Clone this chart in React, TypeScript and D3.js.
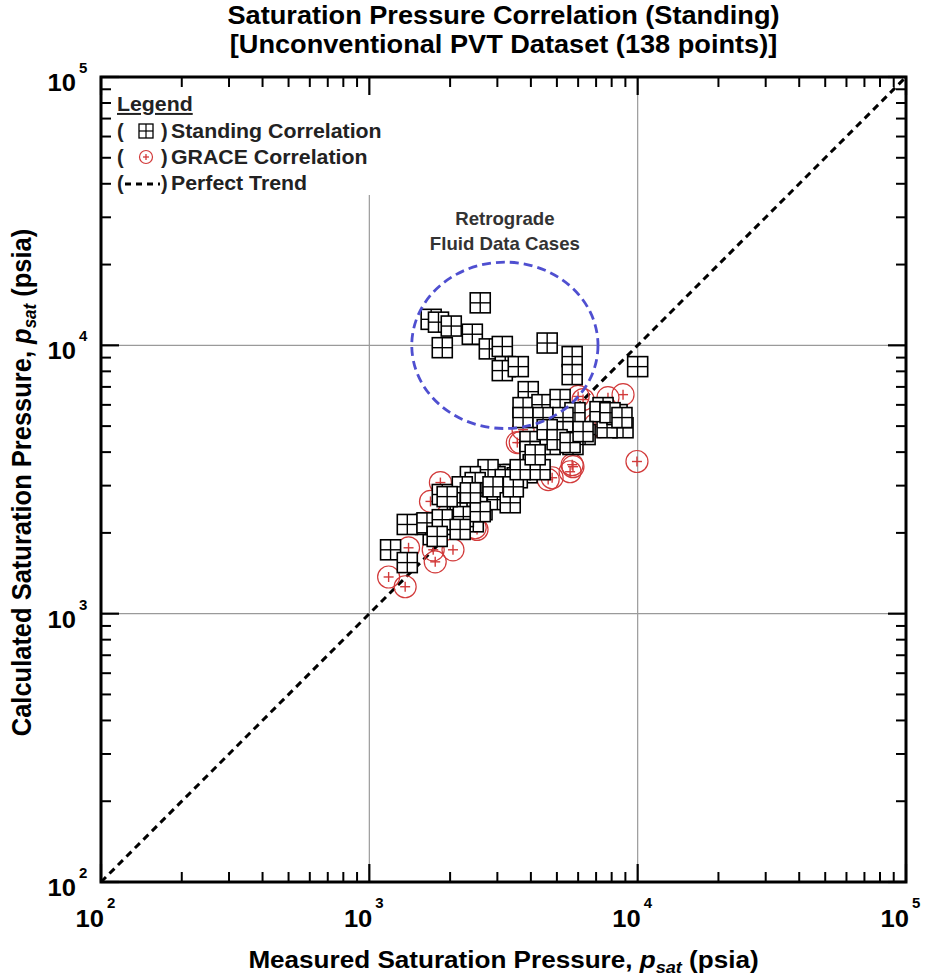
import React from "react";
import * as d3 from "d3";

// ---------- data ----------
const standingMeasured = [
  2590, 1700, 1810, 2020, 1870, 2420, 2800, 3130, 3210, 3130, 3590, 4600, 5700, 5700, 10000,
  3910, 3740, 4400, 5140, 5840, 3740, 4440, 5270, 7430, 8590, 8820, 7690, 6370, 5740, 5140,
  4720, 3970, 3970, 4080, 3870, 3440, 3070, 2750, 5270, 4600, 8380, 7240, 7890, 8740, 2940,
  3020, 2770, 2380, 2480, 2220, 2630, 1870, 2130, 2630, 2440, 2140, 1950, 1730, 1620, 1385,
  1200, 1385, 2180, 2520, 3260, 3000, 2240, 2590, 3560, 3210, 2890, 3350, 3440, 4330, 3650,
  4150, 5010, 5600, 6260, 1640, 1870, 1790, 2180, 2380, 1950,
];
const standingCalculated = [
  14400, 12500, 12200, 11800, 9800, 11000, 9700, 9900, 8330, 8050, 8330, 10200, 9080, 7780, 8330,
  6720, 5860, 6010, 6280, 5610, 5380, 5380, 5380, 5860, 5290, 4930, 4930, 4650, 4270, 4730,
  4270, 4380, 4020, 3590, 3350, 3300, 3300, 3240, 4770, 4850, 5520, 5660, 5610, 5380, 3240,
  2970, 3440, 3240, 3080, 2970, 2820, 2780, 2550, 2440, 2200, 2200, 2150, 1970, 2150, 2150,
  1730, 1550, 2590, 2510, 2730, 2660, 2300, 2400, 3210, 3160, 2970, 2590, 2970, 3440, 3440,
  3910, 4450, 4340, 4770, 2180, 2240, 1940, 2060, 2820, 2730,
];
const graceMeasured = [
  1180, 1360, 1730, 1760, 2050, 1840, 1690, 2480, 1400, 8820, 7750, 6260, 9940, 5700, 5600,
  4800, 6940, 3560, 5740, 4640, 6000, 7240, 3740, 3650, 2520,
];
const graceCalculated = [
  1370, 1260, 1730, 1560, 1730, 3080, 2620, 2090, 1760, 6550, 6380, 6280, 3690, 3590, 3380,
  3210, 5060, 4340, 3530, 3160, 6450, 4980, 4850, 4340, 2060,
];
const decades = [100, 1000, 10000, 100000];
const exponents = ["2", "3", "4", "5"];
const gridValues = [1000, 10000];
const titleLines = [
  "Saturation Pressure Correlation (Standing)",
  "[Unconventional PVT Dataset (138 points)]",
];
const legendLabels = ["Standing Correlation", "GRACE Correlation", "Perfect Trend"];
const annotationLines = ["Retrograde", "Fluid Data Cases"];
const ellipseCenter = [3200, 10000];
const ellipseRadiusDecades = [0.347, 0.31];

// ---------- layout ----------
const W = 927;
const H = 977;
const L = 101, R = 906, T = 77, B = 882;
const FONT = "Arial, 'Liberation Sans', Helvetica, sans-serif";
const SX = 1.065; // horizontal stretch of the source picture's lettering

export default function App() {
  const x = d3.scaleLog().domain([100, 100000]).range([L, R]);
  const y = d3.scaleLog().domain([100, 100000]).range([B, T]);

  const minor: number[] = [];
  for (let k = 0; k < 3; k++) for (let m = 2; m <= 9; m++) minor.push(decades[k] * m);

  const sq = 10; // half size
  const cr = 11;

  const ecx = x(ellipseCenter[0]);
  const ecy = y(ellipseCenter[1]);
  const erx = x(ellipseCenter[0] * Math.pow(10, ellipseRadiusDecades[0])) - ecx;
  const ery = ecy - y(ellipseCenter[1] * Math.pow(10, ellipseRadiusDecades[1]));

  const red = "#d23a3a";
  const cxMid = (L + R) / 2;

  return (
    <svg
      width={W}
      height={H}
      style={{ position: "absolute", left: 0, top: 0, background: "#fff" }}
      fontFamily={FONT}
    >
      <defs>
        <clipPath id="plotClip">
          <rect x={L} y={T} width={R - L} height={B - T} />
        </clipPath>
      </defs>
      <rect x={0} y={0} width={W} height={H} fill="#fff" />

      {/* grid */}
      {gridValues.map((v) => (
        <g key={"g" + v}>
          <line x1={x(v)} x2={x(v)} y1={T} y2={B} stroke="#9a9a9a" strokeWidth={1.2} />
          <line x1={L} x2={R} y1={y(v)} y2={y(v)} stroke="#9a9a9a" strokeWidth={1.2} />
        </g>
      ))}

      {/* legend background */}
      <rect x={L + 2} y={T + 2} width={300} height={116} fill="#fff" />

      {/* perfect trend */}
      <g clipPath="url(#plotClip)">
        <line
          x1={x(100)}
          y1={y(100)}
          x2={x(100000)}
          y2={y(100000)}
          stroke="#000"
          strokeWidth={3}
          strokeDasharray="7,5"
        />
      </g>

      {/* GRACE circles */}
      <g clipPath="url(#plotClip)">
        {graceMeasured.map((m, i) => {
          const cx = x(m);
          const cy = y(graceCalculated[i]);
          return (
            <g key={"c" + i}>
              <circle cx={cx} cy={cy} r={cr} fill="none" stroke={red} strokeWidth={1.2} />
              <line x1={cx - 5} x2={cx + 5} y1={cy} y2={cy} stroke={red} strokeWidth={1.4} />
              <line x1={cx} x2={cx} y1={cy - 5} y2={cy + 5} stroke={red} strokeWidth={1.4} />
            </g>
          );
        })}
      </g>

      {/* Standing squares */}
      <g clipPath="url(#plotClip)">
        {standingMeasured.map((m, i) => {
          const cx = x(m);
          const cy = y(standingCalculated[i]);
          return (
            <g key={"s" + i}>
              <rect
                x={cx - sq}
                y={cy - sq}
                width={2 * sq}
                height={2 * sq}
                fill="#fff"
                stroke="#000"
                strokeWidth={1.6}
              />
              <line x1={cx - sq} x2={cx + sq} y1={cy} y2={cy} stroke="#000" strokeWidth={1.4} />
              <line x1={cx} x2={cx} y1={cy - sq} y2={cy + sq} stroke="#000" strokeWidth={1.4} />
            </g>
          );
        })}
      </g>

      {/* retrograde ellipse */}
      <ellipse
        cx={ecx}
        cy={ecy}
        rx={erx}
        ry={ery}
        fill="none"
        stroke="#4f4fd0"
        strokeWidth={2.8}
        strokeDasharray="9,5"
      />
      {annotationLines.map((t, i) => (
        <text
          key={t}
          transform={`translate(${ecx}, ${225 + i * 25}) scale(${SX}, 1)`}
          textAnchor="middle"
          fontSize={17.5}
          fontWeight="bold"
          fill="#333"
        >
          {t}
        </text>
      ))}

      {/* ticks */}
      {minor.map((v) => (
        <g key={"t" + v}>
          <line x1={x(v)} x2={x(v)} y1={B} y2={B - 10} stroke="#000" strokeWidth={2} />
          <line x1={x(v)} x2={x(v)} y1={T} y2={T + 10} stroke="#000" strokeWidth={2} />
          <line x1={L} x2={L + 10} y1={y(v)} y2={y(v)} stroke="#000" strokeWidth={2} />
          <line x1={R} x2={R - 10} y1={y(v)} y2={y(v)} stroke="#000" strokeWidth={2} />
        </g>
      ))}
      {decades.map((v) => (
        <g key={"T" + v}>
          <line x1={x(v)} x2={x(v)} y1={B} y2={B - 18} stroke="#000" strokeWidth={2.2} />
          <line x1={x(v)} x2={x(v)} y1={T} y2={T + 18} stroke="#000" strokeWidth={2.2} />
          <line x1={L} x2={L + 18} y1={y(v)} y2={y(v)} stroke="#000" strokeWidth={2.2} />
          <line x1={R} x2={R - 18} y1={y(v)} y2={y(v)} stroke="#000" strokeWidth={2.2} />
        </g>
      ))}

      {/* frame */}
      <rect x={L} y={T} width={R - L} height={B - T} fill="none" stroke="#000" strokeWidth={3} />

      {/* tick labels */}
      {decades.map((v, i) => (
        <g key={"lx" + v}>
          <text
            transform={`translate(${x(v) + 3}, 927) scale(${SX}, 1)`}
            textAnchor="end"
            fontSize={24}
            fontWeight="bold"
          >
            10
          </text>
          <text x={x(v) + 6} y={908} fontSize={15} fontWeight="bold">
            {exponents[i]}
          </text>
        </g>
      ))}
      {decades.map((v, i) => (
        <g key={"ly" + v}>
          <text
            transform={`translate(76, ${y(v) + 14}) scale(${SX}, 1)`}
            textAnchor="end"
            fontSize={24}
            fontWeight="bold"
          >
            10
          </text>
          <text x={79} y={y(v) - 4} fontSize={15} fontWeight="bold">
            {exponents[i]}
          </text>
        </g>
      ))}

      {/* titles */}
      {titleLines.map((t, i) => (
        <text
          key={t}
          transform={`translate(${cxMid}, ${24 + i * 29}) scale(${SX}, 1)`}
          textAnchor="middle"
          fontSize={25.5}
          fontWeight="bold"
        >
          {t}
        </text>
      ))}
      <text
        transform={`translate(${cxMid}, 968) scale(${SX}, 1)`}
        textAnchor="middle"
        fontSize={24.5}
        fontWeight="bold"
      >
        Measured Saturation Pressure,{" "}
        <tspan fontStyle="italic">p</tspan>
        <tspan fontStyle="italic" fontSize={17} dy={5}>
          sat
        </tspan>
        <tspan dy={-5}> (psia)</tspan>
      </text>
      <text
        transform={`translate(31, ${(T + B) / 2 + 3}) rotate(-90) scale(1, ${SX})`}
        textAnchor="middle"
        fontSize={25.5}
        fontWeight="bold"
      >
        Calculated Saturation Pressure,{" "}
        <tspan fontStyle="italic">p</tspan>
        <tspan fontStyle="italic" fontSize={17} dy={5}>
          sat
        </tspan>
        <tspan dy={-5}> (psia)</tspan>
      </text>

      {/* legend */}
      <g fontSize={20} fontWeight="bold" fill="#222">
        <text transform={`translate(117, 111) scale(${SX}, 1)`} textDecoration="underline">
          Legend
        </text>
        {legendLabels.map((lab, i) => {
          const by = 138 + i * 26;
          const cy = by - 7;
          return (
            <g key={lab}>
              <text x={117} y={by}>(</text>
              <text x={161} y={by}>)</text>
              <text transform={`translate(171, ${by}) scale(${SX}, 1)`}>{lab}</text>
              {i === 0 && (
                <g>
                  <rect x={139} y={cy - 7} width={14} height={14} fill="#fff" stroke="#000" strokeWidth={1.3} />
                  <line x1={139} x2={153} y1={cy} y2={cy} stroke="#000" strokeWidth={1.2} />
                  <line x1={146} x2={146} y1={cy - 7} y2={cy + 7} stroke="#000" strokeWidth={1.2} />
                </g>
              )}
              {i === 1 && (
                <g>
                  <circle cx={146} cy={cy} r={6.5} fill="none" stroke={red} strokeWidth={1.2} />
                  <line x1={143} x2={149} y1={cy} y2={cy} stroke={red} strokeWidth={1.3} />
                  <line x1={146} x2={146} y1={cy - 3} y2={cy + 3} stroke={red} strokeWidth={1.3} />
                </g>
              )}
              {i === 2 && (
                <line x1={125} x2={160} y1={cy + 1} y2={cy + 1} stroke="#000" strokeWidth={3} strokeDasharray="6,5" />
              )}
            </g>
          );
        })}
      </g>
    </svg>
  );
}
